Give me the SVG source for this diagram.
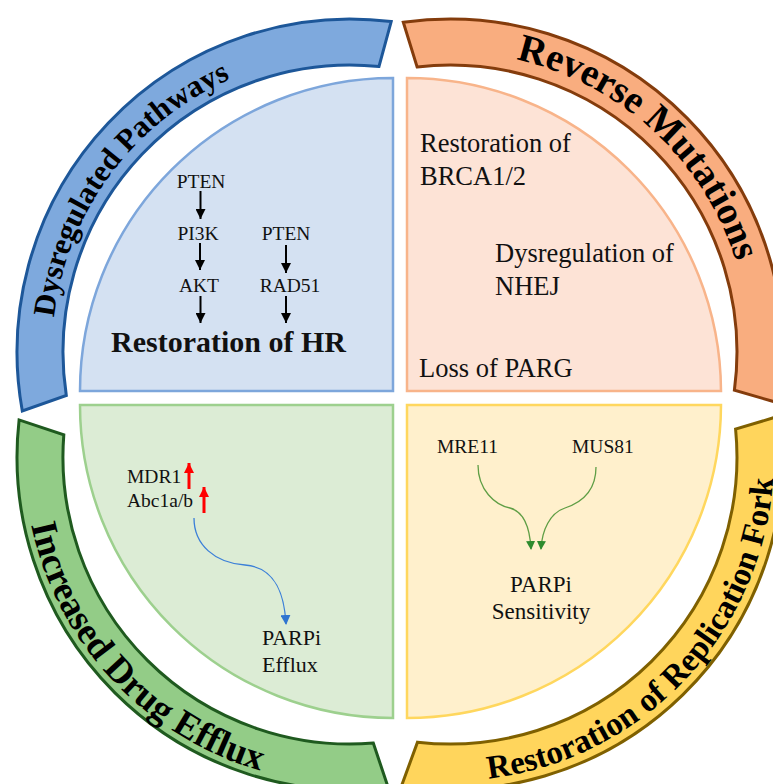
<svg xmlns="http://www.w3.org/2000/svg" width="773" height="784" viewBox="0 0 773 784">
<style>
.t{font-family:"Liberation Serif","Times New Roman",serif;fill:#111}
.band{stroke-width:3;stroke-linejoin:miter}
.sec{stroke-width:2.5}
.lbl{font-family:"Liberation Serif","Times New Roman",serif;font-weight:bold;fill:#000}
.blk{stroke:#000;stroke-width:2;fill:none}
.red{stroke:#f00;stroke-width:3;fill:none}
</style>
<defs>
<marker id="ahB" markerUnits="userSpaceOnUse" markerWidth="10" markerHeight="10" refX="10" refY="5" orient="auto"><path d="M0,0 L10,5 L0,10 z" fill="#000"/></marker>
<marker id="ahR" markerUnits="userSpaceOnUse" markerWidth="10" markerHeight="10" refX="10" refY="5" orient="auto"><path d="M0,0 L10,5 L0,10 z" fill="#f00"/></marker>
<marker id="ahBl" markerUnits="userSpaceOnUse" markerWidth="10" markerHeight="10" refX="9" refY="5" orient="auto"><path d="M0,0 L10,5 L0,10 z" fill="#2f74d0"/></marker>
<marker id="ahG" markerUnits="userSpaceOnUse" markerWidth="9" markerHeight="9" refX="8" refY="4.5" orient="auto"><path d="M0,0 L9,4.5 L0,9 z" fill="#2e8b2e"/></marker>
<path id="pBlue" d="M101.5,516.5 A298,298 0 0 1 434.6,66.3"/>
<path id="pOrange" d="M311.9,85.7 A300,300 0 0 1 727,467.3"/>
<path id="pGreen" d="M59.5,309 A326,326 0 0 0 477.4,757.1"/>
<path id="pYellow" d="M320.8,754.1 A324,324 0 0 0 739.9,312.4"/>
</defs>

<g id="band-dysregulated">
<path class="band" fill="#7ea9dd" stroke="#1d5799" d="M22.3,411 A333,333 0 0 1 391.2,21.6 L379,66.5 A287,287 0 0 0 66.3,395.4 Z"/>
<text class="lbl" font-size="31"><textPath href="#pBlue" startOffset="50%" text-anchor="middle">Dysregulated Pathways</textPath></text>
</g>
<g id="band-reverse">
<path class="band" fill="#f9ad7f" stroke="#843c0c" d="M403.3,22.3 A333,333 0 0 1 779.1,403.2 L734.4,390.2 A287,287 0 0 0 417.1,66.9 Z"/>
<text class="lbl" font-size="39"><textPath href="#pOrange" startOffset="50%" text-anchor="middle">Reverse Mutations</textPath></text>
</g>
<g id="band-efflux">
<path class="band" fill="#93cc87" stroke="#1f5a1f" d="M19.1,419.9 A333,333 0 0 0 388.3,787.8 L373.3,743.1 A287,287 0 0 1 63.8,434.9 Z"/>
<text class="lbl" font-size="37"><textPath href="#pGreen" startOffset="50%" text-anchor="middle">Increased Drug Efflux</textPath></text>
</g>
<g id="band-fork">
<path class="band" fill="#ffd55c" stroke="#7f6000" d="M780.4,415.7 A333,333 0 0 1 401.4,786.2 L417.5,742.2 A287,287 0 0 0 735.6,429.1 Z"/>
<text class="lbl" font-size="33"><textPath href="#pYellow" startOffset="50%" text-anchor="middle">Restoration of Replication Fork</textPath></text>
</g>

<g id="q-hr">
<path class="sec" fill="#d4e1f2" stroke="#7da6db" d="M393,391 L80,391 A313,313 0 0 1 393,78 Z"/>
<text class="t" font-size="19.5" x="201" y="188" text-anchor="middle">PTEN</text>
<text class="t" font-size="19.5" x="198" y="240" text-anchor="middle">PI3K</text>
<text class="t" font-size="19.5" x="286" y="240" text-anchor="middle">PTEN</text>
<text class="t" font-size="19.5" x="199" y="292" text-anchor="middle">AKT</text>
<text class="t" font-size="19.5" x="290" y="292" text-anchor="middle">RAD51</text>
<text class="t" font-size="30" font-weight="bold" x="228.5" y="352" text-anchor="middle">Restoration of HR</text>
</g>
<g id="q-reverse">
<path class="sec" fill="#fde3d6" stroke="#f8b48a" d="M407,391 L407,78 A314,314 0 0 1 721,391 Z"/>
<text class="t" font-size="26.5" x="420" y="152">Restoration of</text>
<text class="t" font-size="26.5" x="420" y="185">BRCA1/2</text>
<text class="t" font-size="26.5" x="495" y="262">Dysregulation of</text>
<text class="t" font-size="26.5" x="495" y="295">NHEJ</text>
<text class="t" font-size="26.5" x="419" y="377">Loss of PARG</text>
</g>
<g id="q-efflux">
<path class="sec" fill="#dcecd5" stroke="#9dd08e" d="M393,405 L393,718 A313,313 0 0 1 80,405 Z"/>
<text class="t" font-size="19.5" x="127" y="483">MDR1</text>
<text class="t" font-size="19.5" x="127" y="507">Abc1a/b</text>
<text class="t" font-size="22" x="262" y="645">PARPi</text>
<text class="t" font-size="22" x="262" y="672">Efflux</text>
</g>
<g id="q-fork">
<path class="sec" fill="#fff0cc" stroke="#ffd75e" d="M407,405 L721,405 A314,314 0 0 1 407,718 Z"/>
<text class="t" font-size="19.5" x="437" y="453">MRE11</text>
<text class="t" font-size="19.5" x="572" y="453">MUS81</text>
<text class="t" font-size="23" x="541" y="592" text-anchor="middle">PARPi</text>
<text class="t" font-size="23" x="541" y="619" text-anchor="middle">Sensitivity</text>
</g>

<g id="connectors">
<line class="blk" x1="200.5" y1="191" x2="200.5" y2="219" marker-end="url(#ahB)"/>
<line class="blk" x1="200" y1="243" x2="200" y2="270" marker-end="url(#ahB)"/>
<line class="blk" x1="286" y1="245" x2="286" y2="273" marker-end="url(#ahB)"/>
<line class="blk" x1="200.5" y1="296" x2="200.5" y2="323" marker-end="url(#ahB)"/>
<line class="blk" x1="286" y1="296" x2="286" y2="323" marker-end="url(#ahB)"/>
<line class="red" x1="189" y1="489" x2="189" y2="463" marker-end="url(#ahR)"/>
<line class="red" x1="204" y1="513" x2="204" y2="487" marker-end="url(#ahR)"/>
<path d="M194,518 C194,545 215,563 245,565 C272,567 284,588 286,624" fill="none" stroke="#3b7fd8" stroke-width="1.3" marker-end="url(#ahBl)"/>
<path d="M478,465 C478,490 495,505 510,508 C525,512 530,530 531,549" fill="none" stroke="#5f9e45" stroke-width="1.3" marker-end="url(#ahG)"/>
<path d="M596,467 C596,492 580,503 565,508 C550,513 542,530 541,549" fill="none" stroke="#5f9e45" stroke-width="1.3" marker-end="url(#ahG)"/>
</g>
</svg>
